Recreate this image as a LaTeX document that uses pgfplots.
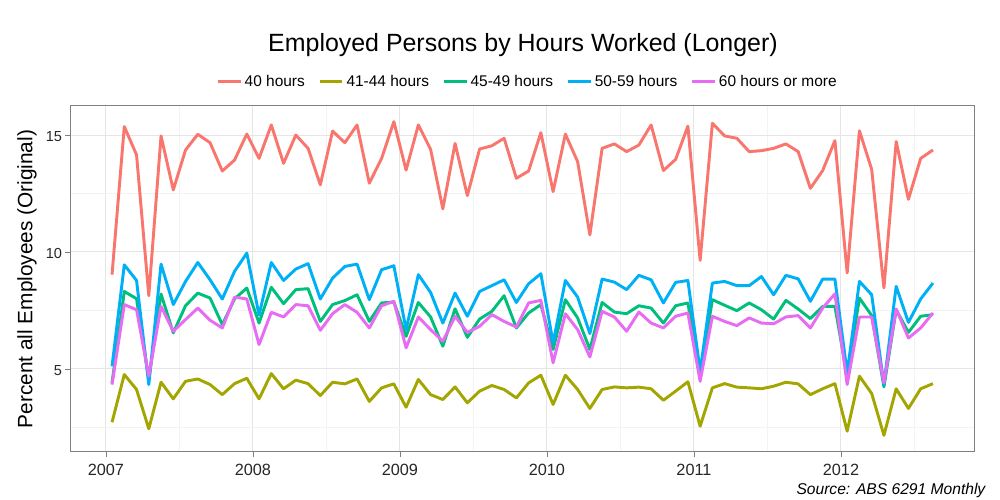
\documentclass[border=0pt]{standalone}
\usepackage{fontspec}
\setmainfont{Liberation Sans}
\usepackage{pgfplots}
\usepackage{pgfplotstable}
\pgfplotsset{compat=1.18}

\definecolor{c40}{HTML}{F8766D}
\definecolor{c41}{HTML}{A3A500}
\definecolor{c45}{HTML}{00BF7D}
\definecolor{c50}{HTML}{00B0F6}
\definecolor{c60}{HTML}{E76BF3}
\definecolor{gridmajor}{RGB}{229,229,229}
\definecolor{gridminor}{RGB}{243,243,243}

% m = months since Jan 2007; values are percent of all employees
\pgfplotstableread{
m  h40   h41  h45  h50  h60
0  9.03  2.72 4.40 5.11 4.33
1  15.36 4.76 8.31 9.45 7.75
2  14.15 4.12 8.00 8.78 7.53
3  8.13  2.44 4.55 4.33 4.69
4  14.96 4.43 8.20 9.48 7.67
5  12.65 3.72 6.54 7.75 6.61
6  14.36 4.47 7.70 8.74 7.11
7  15.03 4.57 8.24 9.55 7.60
8  14.67 4.33 8.03 8.81 7.08
9  13.46 3.90 6.89 7.99 6.75
10 13.93 4.37 7.99 9.17 8.07
11 15.04 4.60 8.46 9.95 7.99
12 14.00 3.72 6.96 7.30 6.04
13 15.43 4.80 8.49 9.55 7.42
14 13.79 4.15 7.79 8.78 7.22
15 15.00 4.52 8.39 9.27 7.75
16 14.43 4.37 8.43 9.50 7.70
17 12.87 3.86 7.03 7.99 6.65
18 15.17 4.43 7.75 8.88 7.36
19 14.67 4.36 7.92 9.38 7.75
20 15.43 4.57 8.17 9.48 7.42
21 12.94 3.61 7.03 7.96 6.75
22 14.00 4.19 7.82 9.24 7.70
23 15.57 4.36 7.86 9.41 7.89
24 13.50 3.36 6.39 6.68 5.90
25 15.43 4.55 7.84 9.03 7.22
26 14.39 3.90 7.22 8.27 6.68
27 11.84 3.69 5.97 6.96 6.18
28 14.64 4.23 7.57 8.24 7.25
29 12.41 3.55 6.35 7.25 6.56
30 14.40 4.05 7.13 8.31 6.82
31 14.54 4.29 7.46 8.56 7.32
32 14.86 4.12 8.13 8.81 7.03
33 13.15 3.76 6.75 7.84 6.79
34 13.46 4.40 7.39 8.64 7.82
35 15.10 4.73 7.75 9.07 7.93
36 12.58 3.48 5.83 6.11 5.26
37 15.04 4.73 7.96 8.78 7.36
38 13.86 4.12 7.18 8.07 6.68
39 10.73 3.31 5.83 6.51 5.51
40 14.43 4.12 7.84 8.84 7.46
41 14.62 4.23 7.43 8.71 7.22
42 14.29 4.19 7.36 8.39 6.61
43 14.57 4.22 7.70 9.00 7.43
44 15.43 4.15 7.60 8.81 6.96
45 13.48 3.66 6.96 7.82 6.75
46 13.96 4.05 7.70 8.70 7.25
47 15.38 4.45 7.82 8.78 7.39
48 9.64  2.55 4.76 4.90 4.47
49 15.50 4.19 7.96 8.67 7.25
50 14.96 4.37 7.72 8.74 7.03
51 14.86 4.22 7.49 8.56 6.85
52 14.29 4.19 7.82 8.56 7.18
53 14.33 4.15 7.53 8.95 6.96
54 14.43 4.26 7.13 8.17 6.93
55 14.62 4.43 7.93 9.00 7.22
56 14.29 4.36 7.56 8.85 7.28
57 12.72 3.90 7.15 7.89 6.75
58 13.48 4.15 7.67 8.84 7.60
59 14.76 4.37 7.67 8.84 8.21
60 9.10  2.34 4.69 4.83 4.33
61 15.18 4.69 8.03 8.74 7.22
62 13.53 3.95 7.28 8.17 7.22
63 8.46  2.16 4.23 4.33 4.40
64 14.72 4.15 7.53 8.53 7.56
65 12.25 3.31 6.56 6.99 6.32
66 14.00 4.15 7.25 7.99 6.75
67 14.36 4.37 7.32 8.67 7.39
}\hours

\begin{document}
\begin{tikzpicture}
\path[use as bounding box] (-53.25pt,-36.75pt) rectangle (696.75pt,338.25pt);
\begin{axis}[
  at={(0pt,0pt)}, anchor=south west,
  scale only axis,
  width=677.25pt, height=258.75pt,
  xmin=2006.7625, xmax=2012.9042,
  ymin=1.49, ymax=16.24,
  xtick={2007,...,2012},
  ytick={5,10,15},
  minor xtick={2007.5,2008.5,...,2012.5},
  minor ytick={2.5,7.5,12.5},
  grid=both,
  major grid style={line width=0.75pt, color=gridmajor},
  minor grid style={line width=0.6pt, color=gridminor},
  minor tick length=0pt,
  major tick length=4.5pt,
  tick align=outside,
  tick pos=left,
  tick style={line width=0.6pt, color=black!50},
  axis line style={line width=0.75pt, color=black!50},
  scaled ticks=false,
  /pgf/number format/1000 sep={},
  /pgf/number format/assume math mode=true,
  xticklabel style={font=\fontsize{12.2}{14}\selectfont, color=black!85, yshift=-1.9pt},
  yticklabel style={font=\fontsize{10.9}{13}\selectfont, color=black!85, xshift=1.3pt, yshift=-1pt},
  legend columns=5,
  legend style={
    at={(axis description cs:0.506,1.0705)}, anchor=center,
    draw=none, fill=none,
    font=\fontsize{11.6}{13}\selectfont,
    /tikz/every even column/.append style={column sep=8pt},
  },
  legend cell align=left,
  legend image code/.code={\draw[#1, line width=2.2pt] (0pt,0pt) -- (17pt,0pt);},
  every axis plot/.append style={line width=2.2pt, line join=round},
]
\addplot[c40] table[x expr=2007+(\thisrow{m}+0.5)/12, y=h40] {\hours};
\addplot[c41] table[x expr=2007+(\thisrow{m}+0.5)/12, y=h41] {\hours};
\addplot[c45] table[x expr=2007+(\thisrow{m}+0.5)/12, y=h45] {\hours};
\addplot[c50] table[x expr=2007+(\thisrow{m}+0.5)/12, y=h50] {\hours};
\addplot[c60] table[x expr=2007+(\thisrow{m}+0.5)/12, y=h60] {\hours};
\legend{40 hours, 41-44 hours, 45-49 hours, 50-59 hours, 60 hours or more}
\end{axis}
\node[font=\fontsize{18.7}{22}\selectfont, anchor=base] at (339pt,299.25pt) {Employed Persons by Hours Worked (Longer)};
\node[font=\fontsize{15.6}{18}\selectfont, rotate=90] at (-33pt,129pt) {Percent all Employees (Original)};
\node[font=\fontsize{11.7}{14}\selectfont\itshape, anchor=base east] at (689.25pt,-32.25pt) {Source: ABS 6291 Monthly};
\end{tikzpicture}
\end{document}
